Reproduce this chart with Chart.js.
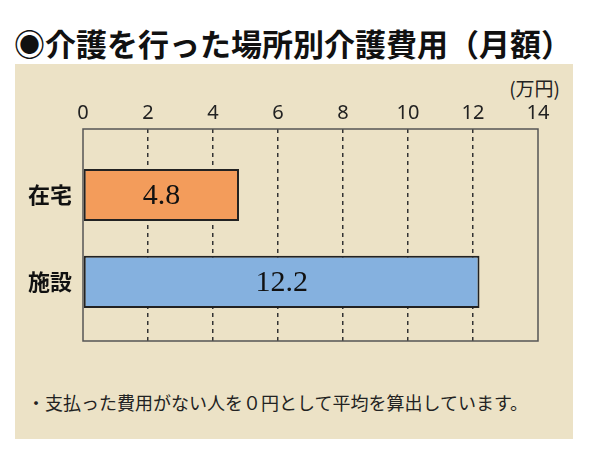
<!DOCTYPE html>
<html>
<head>
<meta charset="utf-8">
<script src="https://cdn.jsdelivr.net/npm/chart.js@4.4.0/dist/chart.umd.min.js"></script>
<style>
  body { margin: 0; width: 590px; height: 452px; background: #fff; position: relative; overflow: hidden; font-family: 'Noto Sans CJK JP', sans-serif; }
  .title { position: absolute; left: 14px; top: 26px; font-size: 31px; line-height: 34px; font-weight: bold; color: #111; white-space: nowrap; }
  .box { position: absolute; left: 15px; top: 64px; width: 558px; height: 375px; background: #ECE2C6; }
  .unit { position: absolute; right: 30px; top: 76px; font-size: 19px; line-height: 24px; color: #222; }
  .note { position: absolute; left: 27px; top: 390px; font-size: 18px; line-height: 24px; color: #222; white-space: nowrap; }
  #chart { position: absolute; left: 15px; top: 64px; }
</style>
</head>
<body>
<div class="title">◉介護を行った場所別介護費用（月額）</div>
<div class="box"></div>
<div class="unit">(万円)</div>
<canvas id="chart" width="558" height="300" style="width:558px;height:300px"></canvas>
<div class="note">・支払った費用がない人を０円として平均を算出しています。</div>
<script>
// data
const places = ['在宅', '施設'];
const monthlyCost = [4.8, 12.2];
const barColors = ['#F39C5B', '#85B1DF'];
const xMax = 14;
const xStep = 2;

// frame round the plot area
const framePlugin = {
  id: 'frame',
  afterDatasetsDraw(chart) {
    const a = chart.chartArea;
    const ctx = chart.ctx;
    ctx.save();
    ctx.strokeStyle = '#555';
    ctx.lineWidth = 1.5;
    ctx.strokeRect(a.left, a.top, a.right - a.left, a.bottom - a.top);
    ctx.restore();
  }
};

// values written inside the bars
const valuePlugin = {
  id: 'values',
  afterDatasetsDraw(chart) {
    const ctx = chart.ctx;
    const meta = chart.getDatasetMeta(0);
    ctx.save();
    ctx.font = '30px "Liberation Serif", serif';
    ctx.fillStyle = '#111';
    ctx.textAlign = 'center';
    ctx.textBaseline = 'middle';
    meta.data.forEach((bar, i) => {
      ctx.fillText(monthlyCost[i].toFixed(1), (bar.x + bar.base) / 2, bar.y + 1);
    });
    ctx.restore();
  }
};

new Chart(document.getElementById('chart'), {
  type: 'bar',
  data: {
    datasets: [{
      data: monthlyCost.map((v, i) => ({ x: v, y: i })),
      backgroundColor: barColors,
      borderColor: '#222',
      borderWidth: 2,
      borderSkipped: false,
      categoryPercentage: 0.8,
      barPercentage: 0.75
    }]
  },
  options: {
    indexAxis: 'y',
    responsive: false,
    animation: false,
    layout: { padding: { left: 0, right: 35, top: 0, bottom: 23 } },
    plugins: { legend: { display: false }, tooltip: { enabled: false } },
    scales: {
      x: {
        type: 'linear',
        position: 'top',
        min: 0,
        max: xMax,
        afterFit(scale) { scale.height = 65; },
        ticks: {
          stepSize: xStep,
          padding: 4,
          color: '#222',
          font: { family: 'Noto Sans', size: 20 }
        },
        grid: {
          drawTicks: false,
          color: ctx => (ctx.tick && (ctx.tick.value === 0 || ctx.tick.value === xMax)) ? 'rgba(0,0,0,0)' : '#333',
          lineWidth: 1.5
        },
        border: { display: false, dash: [4, 4] }
      },
      y: {
        type: 'linear',
        reverse: true,
        offset: false,
        bounds: 'data',
        afterDataLimits(scale) { scale.min = -0.76; scale.max = 1.68; },
        afterFit(scale) { scale.width = 68; },
        afterBuildTicks(scale) { scale.ticks = places.map((p, i) => ({ value: i })); },
        ticks: {
          padding: 3,
          color: '#111',
          font: { family: 'Noto Sans CJK JP', size: 22, weight: 'bold' },
          callback: v => places[v]
        },
        grid: { display: false },
        border: { display: false }
      }
    }
  },
  plugins: [framePlugin, valuePlugin]
});
</script>
</body>
</html>
